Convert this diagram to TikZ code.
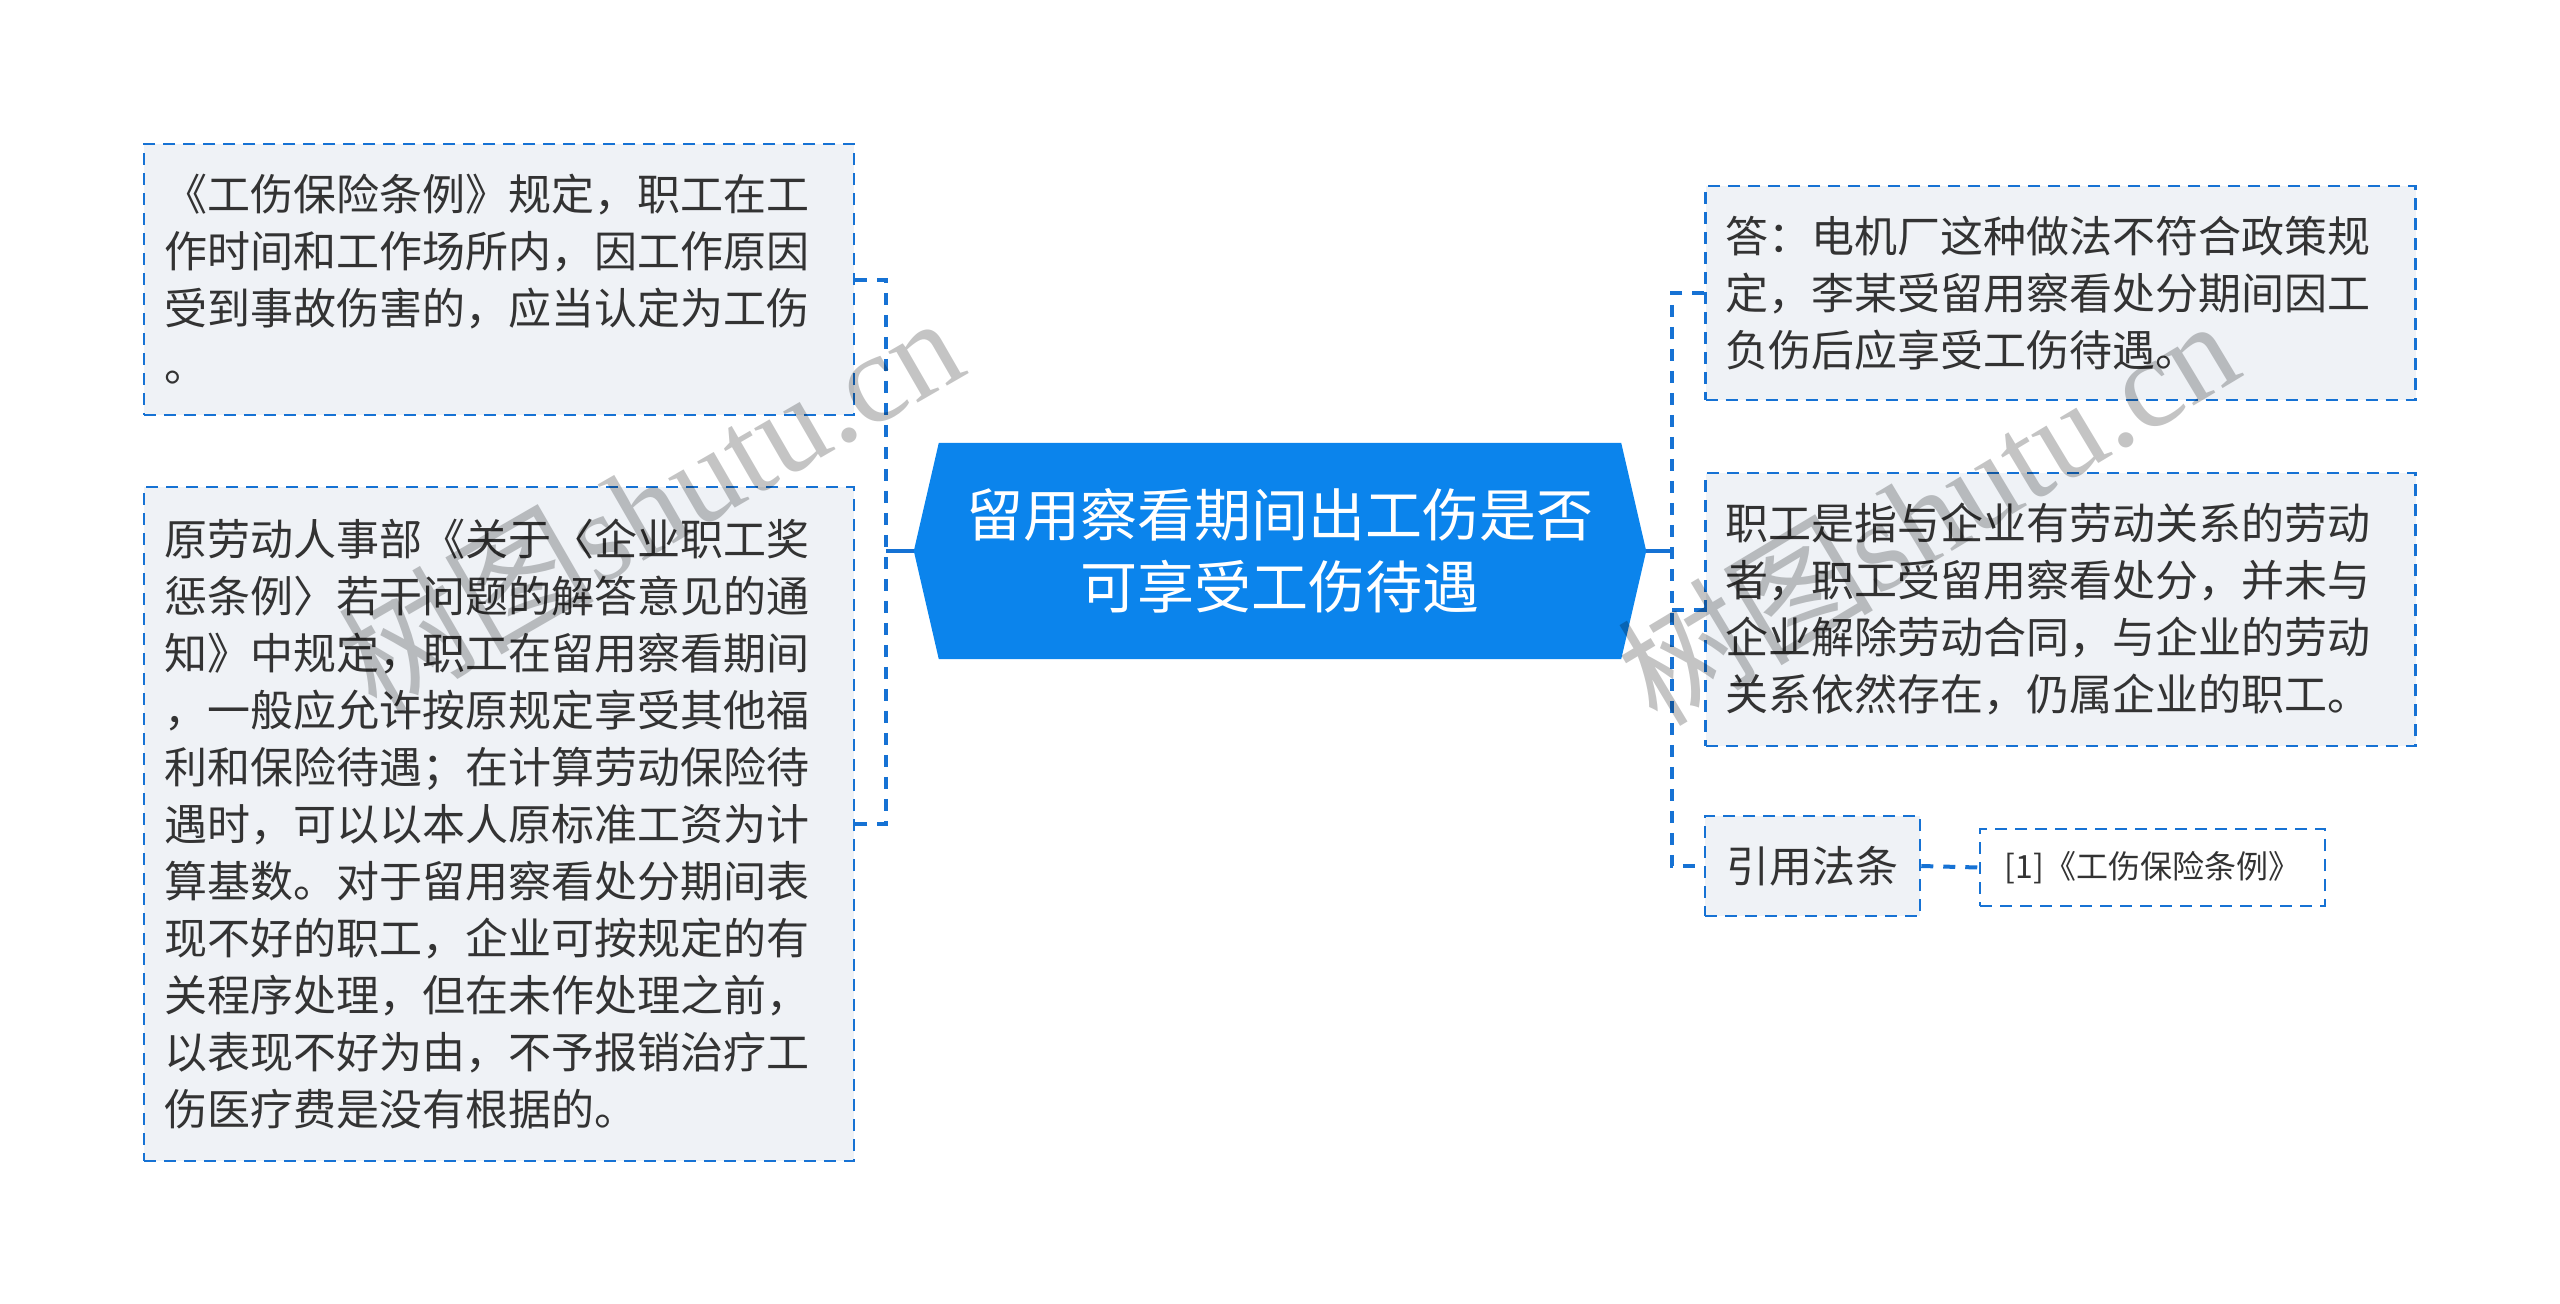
\documentclass[tikz,border=0pt]{standalone}
\usepackage{fontspec}
\newfontfamily\cjk{Noto Sans CJK SC}
\newfontfamily\wmserif{Liberation Serif}
\usetikzlibrary{backgrounds}
\definecolor{linkblue}{RGB}{22,114,212}
\definecolor{hubblue}{RGB}{11,132,236}
\definecolor{leaffill}{RGB}{239,242,246}
\definecolor{inkgray}{RGB}{51,51,51}
\definecolor{wmgray}{RGB}{196,196,196}
\begin{document}
\begin{tikzpicture}[x=1pt,y=-1pt,
  basebox/.style={draw=linkblue, line width=2.5pt, dash pattern=on 12pt off 8pt,
    fill=leaffill, text=inkgray, font={\cjk\fontsize{43}{57}\selectfont},
    inner xsep=20pt, inner ysep=0pt},
  leafbox/.style={basebox, align=left, text width=670pt, minimum width=710pt},
  hubbox/.style={minimum width=732pt, minimum height=216pt, inner sep=0pt},
  hubtext/.style={text=white, align=center, font={\cjk\fontsize{57}{72}\selectfont}},
  link/.style={draw=linkblue, line width=4pt},
  dlink/.style={link, dash pattern=on 12pt off 10pt},
  wm/.style={text=wmgray, blend mode=multiply, font={\fontsize{128}{128}\selectfont}, inner sep=0pt}]
\useasboundingbox (0,0) rectangle (2560,1304);

% central topic
\node[hubbox] (c) at (1280,551) {};
\begin{scope}[on background layer]
\fill[hubblue] ([xshift=25pt]c.north west) -- ([xshift=-25pt]c.north east) -- (c.east)
  -- ([xshift=-25pt]c.south east) -- ([xshift=25pt]c.south west) -- (c.west) -- cycle;
\end{scope}
\node[hubtext] (ct) at (c) {留用察看期间出工伤是否\\可享受工伤待遇};

% left leaves
\node[leafbox, minimum height=271pt] (l1) at (499,279.5)
  {《工伤保险条例》规定，职工在工\\作时间和工作场所内，因工作原因\\受到事故伤害的，应当认定为工伤\\。};
\node[leafbox, minimum height=674pt] (l2) at (499,824)
  {原劳动人事部《关于〈企业职工奖\\惩条例〉若干问题的解答意见的通\\知》中规定，职工在留用察看期间\\，一般应允许按原规定享受其他福\\利和保险待遇；在计算劳动保险待\\遇时，可以以本人原标准工资为计\\算基数。对于留用察看处分期间表\\现不好的职工，企业可按规定的有\\关程序处理，但在未作处理之前，\\以表现不好为由，不予报销治疗工\\伤医疗费是没有根据的。};

% right leaves
\node[leafbox, minimum height=214pt] (r1) at (2060.5,293)
  {答：电机厂这种做法不符合政策规\\定，李某受留用察看处分期间因工\\负伤后应享受工伤待遇。};
\node[leafbox, minimum height=273pt] (r2) at (2060.5,609.5)
  {职工是指与企业有劳动关系的劳动\\者，职工受留用察看处分，并未与\\企业解除劳动合同，与企业的劳动\\关系依然存在，仍属企业的职工。};
\node[basebox, minimum width=215pt, minimum height=100pt] (r3) at (1812.5,866) {引用法条};
\node[basebox, fill=white, minimum width=345pt, minimum height=77pt,
  font={\cjk\fontsize{32}{40}\selectfont}] (r4) at (2152.5,867.5) {[1]《工伤保险条例》};

% connectors
\coordinate (jl) at (886,551);
\coordinate (jr) at (1672,551);
\draw[link] (c.west) -- (jl);
\draw[dlink] (l1.east) -- (l1.east -| jl) -- (l2.east -| jl) -- (l2.east);
\draw[link] (c.east) -- (jr);
\draw[dlink] (r1.west) -- (r1.west -| jr) -- (r3.west -| jr) -- (r3.west);
\draw[dlink] (jr |- r2.west) -- (r2.west);
\draw[dlink] (r3.east) -- (r4.west);

% watermarks
\node[wm, rotate=30] (wm1) at (649,502) {{\cjk 树图}{\wmserif shutu.cn}};
\node[wm, rotate=31] (wm2) at (1927,510) {{\cjk 树图}{\wmserif shutu.cn}};
\end{tikzpicture}
\end{document}
